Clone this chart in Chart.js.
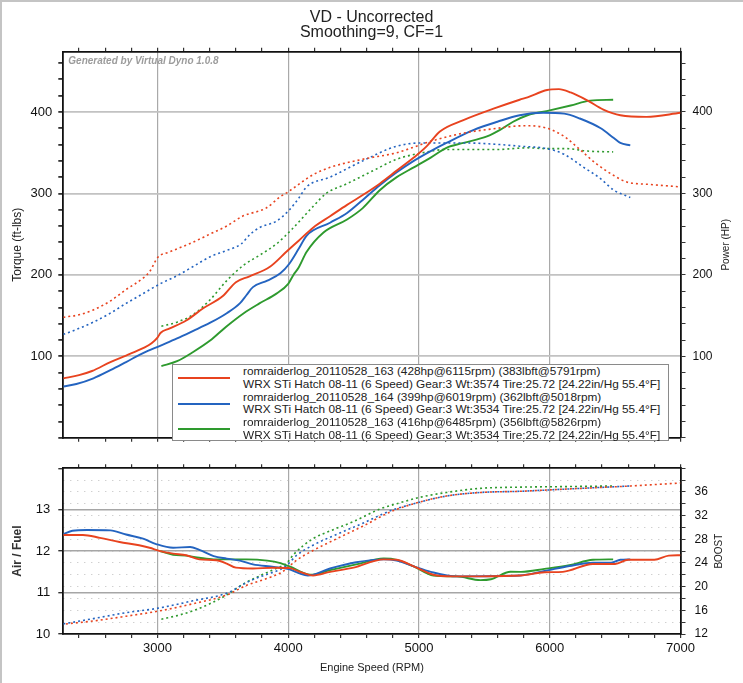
<!DOCTYPE html>
<html>
<head>
<meta charset="utf-8">
<script src="https://cdn.jsdelivr.net/npm/chart.js@4"></script>
<style>
  body { margin: 0; background: #fff; }
  #wrap { position: relative; width: 743px; height: 683px; overflow: hidden; background: #fff;
          font-family: "Liberation Sans", Arial, sans-serif; color: #222; }
  #wrap canvas { position: absolute; left: 0; }
  .title { position: absolute; left: 0; width: 743px; text-align: center; font-size: 16px; line-height: 16px; }
  #legend { position: absolute; left: 172px; top: 364px; width: 497px; height: 77px; background: #fff;
            border: 1px solid #8a8a8a; box-sizing: border-box; font-size: 11.8px; line-height: 12.8px; }
  .row { position: relative; height: 25.6px; }
  .swatch { position: absolute; left: 5px; top: 12px; width: 52px; height: 2px; }
  .txt { position: absolute; left: 70px; top: 0; white-space: nowrap; }
  .frame { position: absolute; left: 0; top: 0; width: 743px; height: 683px; box-sizing: border-box;
           border-left: 2px solid #c4c4c4; border-top: 2px solid #c4c4c4; pointer-events: none; }
</style>
</head>
<body>
<div id="wrap">
  <canvas id="topChart" width="743" height="452" style="top:0"></canvas>
  <canvas id="bottomChart" width="743" height="231" style="top:452px"></canvas>
  <div class="title" style="top:9px">VD - Uncorrected</div>
  <div class="title" style="top:24px">Smoothing=9, CF=1</div>
  <div id="legend"></div>
  <div class="frame"></div>
</div>
<script>
// ---- data ----
const runNames = [
  "romraiderlog_20110528_163 (428hp@6115rpm) (383lbft@5791rpm)",
  "romraiderlog_20110528_164 (399hp@6019rpm) (362lbft@5018rpm)",
  "romraiderlog_20110528_163 (416hp@6485rpm) (356lbft@5826rpm)"
];
const runInfo = [
  "WRX STi Hatch 08-11 (6 Speed) Gear:3 Wt:3574 Tire:25.72 [24.22in/Hg 55.4°F]",
  "WRX STi Hatch 08-11 (6 Speed) Gear:3 Wt:3534 Tire:25.72 [24.22in/Hg 55.4°F]",
  "WRX STi Hatch 08-11 (6 Speed) Gear:3 Wt:3534 Tire:25.72 [24.22in/Hg 55.4°F]"
];
const runColors = ["#e8431f", "#2464c0", "#2e9a2e"];

// power (HP), solid
const rpmRedHp = [2280,2400,2500,2640,2760,2890,2955,3000,3025,3090,3220,3350,3500,3600,3700,3860,3990,4080,4190,4320,4450,4570,4700,4830,4960,5060,5160,5340,5570,5770,5830,5980,6070,6160,6290,6410,6540,6740,7000];
const redHp    = [73,77,82,93,101,110,116,123,129,134,144,159,174,191,198,210,229,242,258,272,286,298,312,328,344,358,376,390,404,415,418,427,428,424,414,403,396,394,399];
const rpmBlueHp = [2280,2380,2510,2640,2760,2890,3020,3150,3270,3400,3530,3630,3680,3730,3840,3940,4010,4080,4140,4320,4450,4570,4700,4830,4960,5090,5210,5420,5600,5770,5950,6110,6230,6390,6490,6540,6616];
const blueHp    = [63,66,73,83,93,104,113,122,131,141,153,165,175,185,193,202,214,232,248,264,276,292,310,326,340,352,362,378,388,396,399,398,392,380,368,362,359];
const rpmGreenHp = [3030,3150,3270,3400,3530,3660,3780,3910,4000,4040,4080,4140,4270,4450,4570,4700,4830,4960,5090,5210,5340,5520,5620,5720,5830,6000,6160,6310,6485];
const greenHp    = [88,94,105,119,137,153,165,177,189,200,209,228,252,268,282,304,320,332,344,356,362,370,378,388,396,402,408,414,415];

// torque (ft-lbs), dotted
const rpmRedTq = [2280,2400,2510,2640,2760,2890,2940,3005,3090,3270,3400,3530,3650,3830,3940,4000,4070,4190,4320,4570,4830,5090,5340,5600,5790,5850,5980,6110,6230,6360,6490,6590,6770,7000];
const redTq    = [148,151,157,168,182,196,204,222,228,240,250,260,272,282,296,302,310,323,332,342,350,364,374,380,383,383,380,370,354,336,322,314,311,308];
const rpmBlueTq = [2280,2380,2510,2640,2760,2890,3020,3150,3270,3400,3530,3640,3710,3780,3910,4010,4080,4140,4320,4570,4830,5030,5340,5620,5770,5980,6110,6260,6390,6490,6616];
const blueTq    = [127,133,142,153,165,177,189,199,210,222,230,238,250,258,266,280,294,308,320,340,358,362,362,360,358,355,348,332,318,304,295];
const rpmGreenTq = [3030,3150,3270,3400,3530,3660,3780,3910,4040,4190,4290,4450,4650,4830,5030,5210,5600,5830,5980,6130,6290,6485];
const greenTq    = [137,142,151,169,193,212,224,238,258,284,300,312,328,342,350,354,354,356,355,355,352,351];

// air / fuel, solid
const rpmRedAfr = [2280,2430,2560,2710,2860,2940,3020,3120,3220,3320,3450,3530,3600,3730,3880,4010,4090,4190,4320,4500,4730,4830,4960,5110,5260,5470,5780,5960,6100,6330,6500,6600,6800,6910,7000];
const redAfr    = [12.39,12.39,12.32,12.22,12.14,12.08,12.00,11.94,11.90,11.80,11.78,11.70,11.60,11.58,11.60,11.59,11.50,11.41,11.50,11.60,11.80,11.79,11.63,11.43,11.39,11.39,11.41,11.49,11.50,11.69,11.69,11.79,11.79,11.89,11.90];
const rpmBlueAfr = [2280,2350,2460,2640,2760,2890,2990,3120,3250,3320,3430,3530,3630,3730,3890,4010,4080,4150,4320,4520,4730,4830,4960,5090,5290,5770,5960,6150,6330,6470,6540,6616];
const blueAfr    = [12.41,12.49,12.51,12.50,12.40,12.30,12.17,12.08,12.10,12.03,11.88,11.82,11.77,11.68,11.62,11.56,11.47,11.41,11.58,11.73,11.80,11.77,11.63,11.50,11.39,11.41,11.52,11.64,11.72,11.72,11.79,11.80];
const rpmGreenAfr = [3020,3120,3220,3320,3430,3680,3840,3940,4010,4170,4320,4520,4730,4830,4960,5110,5290,5470,5550,5700,5780,5960,6150,6330,6485];
const greenAfr    = [12.00,11.91,11.89,11.84,11.80,11.80,11.77,11.71,11.63,11.43,11.54,11.68,11.82,11.79,11.63,11.41,11.39,11.30,11.32,11.50,11.50,11.57,11.66,11.79,11.80];

// boost, dotted
const rpmRedBoost = [2300,2510,2760,2990,3270,3530,3680,3840,3940,3990,4060,4190,4400,4570,4780,4960,5210,5470,5770,6150,6620,7000];
const redBoost    = [13.7,14.2,15.0,15.8,17.1,18.6,20.2,21.4,22.3,23.1,24.4,26.1,28.4,30.2,32.6,34.0,35.3,35.9,36.1,36.5,37.0,37.5];
const rpmBlueBoost = [2280,2510,2760,2990,3270,3530,3710,3840,3940,3990,4060,4190,4400,4570,4780,4960,5210,5470,5770,6150,6616];
const blueBoost    = [13.7,14.6,15.6,16.3,17.6,18.9,21.0,22.1,22.9,23.6,25.2,27.0,29.1,30.7,32.8,34.0,35.3,35.9,36.1,36.5,37.0];
const rpmGreenBoost = [3030,3150,3270,3400,3530,3660,3780,3910,3990,4040,4190,4320,4500,4700,4830,5010,5210,5470,5770,6150,6485];
const greenBoost    = [14.5,15.1,15.9,17.1,18.6,20.5,21.8,23.1,24.0,25.4,28.1,29.4,31.0,33.1,34.0,35.1,35.9,36.6,36.8,36.9,37.0];

// ticks
const rpmTicks = [2400,2600,2800,3000,3200,3400,3600,3800,4000,4200,4400,4600,4800,5000,5200,5400,5600,5800,6000,6200,6400,6600,6800,7000];
const rpmLabels = [3000,4000,5000,6000,7000];
const powerTicks = [0,20,40,60,80,100,120,140,160,180,200,220,240,260,280,300,320,340,360,380,400,420,440,460];
const powerLabels = [100,200,300,400];
const afrTicks = [10,11,12,13,14];
const afrLabels = [10,11,12,13];
const boostTicks = [12,14,16,18,20,22,24,26,28,30,32,34,36,38,40];
const boostLabels = [12,16,20,24,28,32,36];

// ---- chart ----
Chart.defaults.font.family = '"Liberation Sans", Arial, sans-serif';
Chart.defaults.color = '#1a1a1a';

const RPM_MIN = 2280, RPM_MAX = 7000;
const AXIS_L = 63.3, AXIS_R = 62.5;

function line(rpm, vals, color, dotted, axis) {
  return {
    data: rpm.map((r, i) => ({ x: r, y: vals[i] })),
    borderColor: color,
    borderWidth: dotted ? 1.6 : 1.9,
    borderDash: dotted ? [2, 3] : [],
    pointRadius: 0,
    cubicInterpolationMode: 'monotone',
    yAxisID: axis
  };
}

const setTicks = list => scale => { scale.ticks = list.map(v => ({ value: v })); };

function rpmAxis(position, height, labels, onArea) {
  return {
    type: 'linear', position: position, min: RPM_MIN, max: RPM_MAX,
    afterBuildTicks: setTicks(rpmTicks),
    afterFit: s => { s.height = height; },
    ticks: {
      display: labels, autoSkip: false, maxRotation: 0, padding: 3,
      font: { size: 13 }, color: '#111',
      callback: v => rpmLabels.includes(v) ? v : ''
    },
    grid: {
      drawOnChartArea: onArea,
      color: c => (c.tick && c.tick.value % 1000 === 0 && c.tick.value < RPM_MAX) ? '#a9a9a9' : 'transparent',
      lineWidth: 1.2, tickLength: 4, tickColor: '#333'
    },
    border: { color: '#111', width: 1.8 }
  };
}

function sideTitle(text, font, dx) {
  return {
    id: 'sideTitle',
    afterDraw(chart) {
      const { ctx, chartArea: a } = chart;
      ctx.save();
      ctx.translate(a.right + dx, (a.top + a.bottom) / 2);
      ctx.rotate(-Math.PI / 2);
      ctx.font = font;
      ctx.fillStyle = '#222';
      ctx.textAlign = 'center';
      ctx.textBaseline = 'middle';
      ctx.fillText(text, 0, 0);
      ctx.restore();
    }
  };
}

const watermark = {
  id: 'watermark',
  afterDatasetsDraw(chart) {
    const { ctx, chartArea: a } = chart;
    ctx.save();
    ctx.font = 'italic bold 10px "Liberation Sans", Arial, sans-serif';
    ctx.fillStyle = '#9c9c9c';
    ctx.textBaseline = 'middle';
    ctx.fillText('Generated by Virtual Dyno 1.0.8', a.left + 5, a.top + 9.5);
    ctx.restore();
  }
};

new Chart(document.getElementById('topChart'), {
  type: 'line',
  data: {
    datasets: [
      line(rpmRedHp, redHp, runColors[0], false, 'y'),
      line(rpmRedTq, redTq, runColors[0], true, 'y'),
      line(rpmBlueHp, blueHp, runColors[1], false, 'y'),
      line(rpmBlueTq, blueTq, runColors[1], true, 'y'),
      line(rpmGreenHp, greenHp, runColors[2], false, 'y'),
      line(rpmGreenTq, greenTq, runColors[2], true, 'y')
    ]
  },
  options: {
    responsive: false, animation: false, devicePixelRatio: 1,
    layout: { padding: 0 },
    plugins: { legend: { display: false }, tooltip: { enabled: false } },
    scales: {
      x: rpmAxis('bottom', 4.4, false, true),
      xTop: rpmAxis('top', 51.7, false, false),
      y: {
        position: 'left', min: 0, max: 474,
        afterBuildTicks: setTicks(powerTicks),
        afterFit: s => { s.width = AXIS_L; },
        ticks: { autoSkip: false, padding: 6, font: { size: 13 }, color: '#111',
                 callback: v => powerLabels.includes(v) ? v : '' },
        grid: { color: c => (c.tick && powerLabels.includes(c.tick.value)) ? '#c2c2c2' : 'transparent',
                lineWidth: 1.8, tickLength: 5, tickColor: '#333' },
        border: { color: '#111', width: 1.8 },
        title: { display: true, text: 'Torque (ft-lbs)', font: { size: 12 }, color: '#222', padding: { top: 10, bottom: 0 } }
      },
      y2: {
        position: 'right', min: 0, max: 474,
        afterBuildTicks: setTicks(powerTicks),
        afterFit: s => { s.width = AXIS_R; },
        ticks: { autoSkip: false, padding: 7, font: { size: 12 }, color: '#111',
                 callback: v => powerLabels.includes(v) ? v : '' },
        grid: { drawOnChartArea: false, tickLength: 5, tickColor: '#333' },
        border: { color: '#111', width: 1.8 }
      }
    }
  },
  plugins: [watermark, sideTitle('Power (HP)', '10px "Liberation Sans", Arial, sans-serif', 46)]
});

new Chart(document.getElementById('bottomChart'), {
  type: 'line',
  data: {
    datasets: [
      line(rpmRedAfr, redAfr, runColors[0], false, 'afr'),
      line(rpmRedBoost, redBoost, runColors[0], true, 'boost'),
      line(rpmBlueAfr, blueAfr, runColors[1], false, 'afr'),
      line(rpmBlueBoost, blueBoost, runColors[1], true, 'boost'),
      line(rpmGreenAfr, greenAfr, runColors[2], false, 'afr'),
      line(rpmGreenBoost, greenBoost, runColors[2], true, 'boost')
    ]
  },
  options: {
    responsive: false, animation: false, devicePixelRatio: 1,
    layout: { padding: 0 },
    plugins: { legend: { display: false }, tooltip: { enabled: false } },
    scales: {
      x: Object.assign(rpmAxis('bottom', 49, true, true), {
        title: { display: true, text: 'Engine Speed (RPM)', font: { size: 11 }, color: '#222', padding: { top: 0, bottom: 8.4 } }
      }),
      xTop: rpmAxis('top', 3.7, false, false),
      afr: {
        position: 'left', min: 10, max: 14,
        afterBuildTicks: setTicks(afrTicks),
        afterFit: s => { s.width = AXIS_L; },
        ticks: { autoSkip: false, padding: 8, font: { size: 13 }, color: '#111',
                 callback: v => afrLabels.includes(v) ? v : '' },
        grid: { color: c => (c.tick && c.tick.value > 10 && c.tick.value < 14) ? '#a6a6a6' : 'transparent',
                lineWidth: 1.4, tickLength: 5, tickColor: '#333' },
        border: { color: '#111', width: 1.8 },
        title: { display: true, text: 'Air / Fuel', font: { size: 12, weight: 'bold' }, color: '#333', padding: { top: 10, bottom: 0 } }
      },
      boost: {
        position: 'right', min: 12, max: 40,
        afterBuildTicks: setTicks(boostTicks),
        afterFit: s => { s.width = AXIS_R; },
        ticks: { autoSkip: false, padding: 9, font: { size: 12 }, color: '#111',
                 callback: v => boostLabels.includes(v) ? v : '' },
        grid: { color: c => (c.tick && c.tick.value > 12 && c.tick.value < 40) ? '#bdbdbd' : 'transparent',
                lineWidth: 1, tickLength: 5, tickColor: '#333' },
        border: { color: '#111', width: 1.8, dash: [1, 6] }
      }
    }
  },
  plugins: [sideTitle('BOOST', '10px "Liberation Sans", Arial, sans-serif', 39)]
});

// legend
const legend = document.getElementById('legend');
runNames.forEach((name, i) => {
  const row = document.createElement('div');
  row.className = 'row';
  row.innerHTML = '<span class="swatch" style="background:' + runColors[i] + '"></span>' +
                  '<div class="txt">' + name + '<br>' + runInfo[i] + '</div>';
  legend.appendChild(row);
});
</script>
</body>
</html>
